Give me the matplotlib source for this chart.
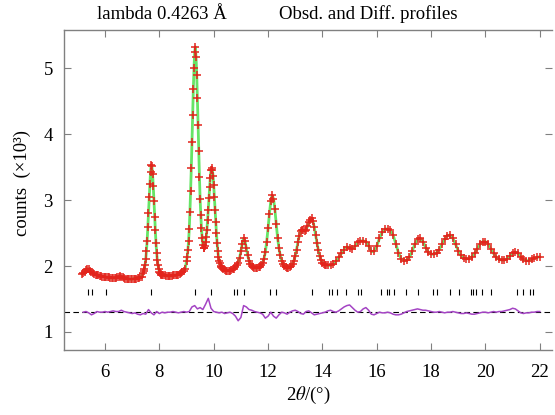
import numpy as np
import matplotlib
matplotlib.use("Agg")
import matplotlib.pyplot as plt

plt.rcParams['font.family'] = ['Liberation Serif', 'DejaVu Serif']
plt.rcParams['mathtext.fontset'] = 'stix'

obs_pieces = [
    (5.15, 0.05, [1.88, 1.89, 1.91, 1.94, 1.96, 1.95, 1.93, 1.91, 1.89, 1.88,
                  1.87, 1.86, 1.86, 1.85, 1.85, 1.84, 1.84, 1.84, 1.83, 1.83,
                  1.83, 1.82, 1.82, 1.82, 1.82, 1.82, 1.83, 1.84, 1.85, 1.84,
                  1.83, 1.82, 1.81, 1.81, 1.81, 1.80, 1.80, 1.80, 1.81, 1.81,
                  1.81, 1.82, 1.82, 1.83, 1.84]),
    (7.40, 0.025, [1.90, 1.92, 1.96, 2.02, 2.11, 2.23, 2.38, 2.59, 2.80, 3.04,
                   3.24, 3.43, 3.53, 3.51, 3.39, 3.21, 2.99, 2.75, 2.54, 2.35,
                   2.20, 2.09, 2.01, 1.96, 1.91, 1.90, 1.88, 1.87]),
    (8.10, 0.05, [1.87, 1.86, 1.86, 1.85, 1.85, 1.85, 1.85, 1.85, 1.86, 1.86,
                  1.86, 1.87, 1.87, 1.88, 1.89, 1.91, 1.93, 1.96]),
    (9.00, 0.025, [2.07, 2.14, 2.24, 2.38, 2.56, 2.82, 3.13, 3.48, 3.88, 4.29,
                   4.68, 5.00, 5.24, 5.32, 5.16, 4.90, 4.54, 4.14, 3.74, 3.35,
                   3.01, 2.77, 2.57, 2.42, 2.32, 2.28, 2.28, 2.31, 2.37, 2.44,
                   2.55, 2.69, 2.85, 3.03, 3.19, 3.34, 3.45, 3.48, 3.46, 3.37,
                   3.22, 3.04, 2.85, 2.66, 2.50, 2.35, 2.23, 2.14, 2.08, 2.04,
                   2.00, 1.98]),
    (10.30, 0.05, [1.97, 1.95, 1.94, 1.93, 1.93, 1.93, 1.93, 1.94, 1.95, 1.96,
                   1.98, 2.01, 2.05, 2.12, 2.22, 2.34, 2.42, 2.38, 2.27, 2.16,
                   2.08, 2.03, 2.00, 1.98, 1.97, 1.97, 1.97, 1.98, 1.99, 2.01,
                   2.05, 2.11, 2.21, 2.37, 2.57, 2.79, 2.98, 3.07, 3.02, 2.86,
                   2.64, 2.43, 2.27, 2.16, 2.08, 2.03, 2.00, 1.98, 1.97, 1.97,
                   1.98, 2.00, 2.03, 2.08, 2.15, 2.25, 2.36, 2.46, 2.53, 2.55,
                   2.54, 2.53, 2.55, 2.60, 2.66, 2.70, 2.72, 2.68, 2.59, 2.47,
                   2.35, 2.24, 2.15, 2.09, 2.05, 2.03, 2.02, 2.01, 2.01]),
    (14.30, 0.1, [2.01, 2.03, 2.07, 2.13, 2.19, 2.25, 2.29, 2.28, 2.26, 2.30,
                  2.36, 2.38, 2.38, 2.37, 2.31, 2.22, 2.22, 2.30, 2.42, 2.51,
                  2.56, 2.56, 2.54, 2.47, 2.34, 2.20, 2.11, 2.08, 2.09, 2.13,
                  2.22, 2.33, 2.41, 2.42, 2.37, 2.28, 2.21, 2.18, 2.18, 2.20,
                  2.25, 2.33, 2.41, 2.46, 2.47, 2.42, 2.33, 2.23, 2.16, 2.12,
                  2.11, 2.11, 2.14, 2.19, 2.26, 2.33, 2.37, 2.37, 2.33, 2.26,
                  2.19, 2.13, 2.10, 2.09, 2.09, 2.11, 2.15, 2.19, 2.21, 2.19,
                  2.14, 2.10, 2.08, 2.08, 2.10, 2.12, 2.13, 2.14]),
]

# reflection positions (tick row)
refl_pos = [5.37, 5.53, 6.03, 7.71, 9.31, 9.90, 10.74, 10.85, 11.10, 12.09,
            12.30, 13.60, 14.25, 14.37, 14.52, 14.86, 15.31, 15.41, 16.17, 16.36,
            16.45, 16.64, 17.07, 17.52, 18.07, 18.20, 18.68, 19.04, 19.47, 19.55,
            19.66, 19.88, 20.22, 21.18, 21.37, 21.63, 21.75]
refl_level = 1.6

# difference curve (offset to 1.3), from 5.2 in steps of 0.1
diff_start, diff_step = 5.2, 0.1
diff_vals = [1.30, 1.31, 1.29, 1.26, 1.28, 1.31, 1.30, 1.30, 1.31, 1.30,
             1.31, 1.32, 1.31, 1.31, 1.33, 1.31, 1.30, 1.29, 1.28, 1.29,
             1.27, 1.26, 1.28, 1.27, 1.34, 1.29, 1.26, 1.31, 1.28, 1.30,
             1.29, 1.30, 1.30, 1.31, 1.30, 1.29, 1.30, 1.31, 1.30, 1.31,
             1.38, 1.40, 1.35, 1.37, 1.34, 1.42, 1.51, 1.36, 1.31, 1.30,
             1.29, 1.30, 1.28, 1.29, 1.30, 1.28, 1.24, 1.17, 1.22, 1.40,
             1.38, 1.34, 1.33, 1.31, 1.30, 1.29, 1.27, 1.21, 1.24, 1.30,
             1.24, 1.21, 1.26, 1.30, 1.29, 1.27, 1.30, 1.32, 1.33, 1.31,
             1.28, 1.27, 1.31, 1.32, 1.29, 1.26, 1.27, 1.28, 1.29, 1.30,
             1.32, 1.33, 1.31, 1.30, 1.32, 1.35, 1.38, 1.40, 1.41, 1.37,
             1.33, 1.30, 1.31, 1.35, 1.37, 1.33, 1.27, 1.26, 1.28, 1.30,
             1.29, 1.29, 1.30, 1.29, 1.27, 1.26, 1.26, 1.27, 1.29, 1.31,
             1.32, 1.33, 1.34, 1.35, 1.34, 1.33, 1.33, 1.32, 1.31, 1.30,
             1.30, 1.31, 1.30, 1.29, 1.30, 1.30, 1.31, 1.30, 1.29, 1.28,
             1.28, 1.29, 1.28, 1.27, 1.27, 1.28, 1.29, 1.30, 1.30, 1.29,
             1.30, 1.31, 1.30, 1.31, 1.31, 1.32, 1.33, 1.34, 1.36, 1.35,
             1.32, 1.29, 1.28, 1.29, 1.29, 1.30, 1.30, 1.31, 1.31]
diff_zero = 1.3

x_ticks = [6, 8, 10, 12, 14, 16, 18, 20, 22]
y_ticks = [1, 2, 3, 4, 5]

two_theta = np.concatenate([s + st * np.arange(len(v)) for s, st, v in obs_pieces])
counts = np.concatenate([v for s, st, v in obs_pieces])
diff_x = diff_start + diff_step * np.arange(len(diff_vals))

fig = plt.figure(figsize=(5.55, 4.15), dpi=100)
ax = fig.add_axes([0.1153, 0.1566, 0.8793, 0.7711])

ax.plot(two_theta, counts, color='#66e466', lw=2.0, zorder=2)
ax.plot(two_theta, counts, ls='none', marker='+', ms=5.5, mew=1.1,
        color='#e3241c', zorder=3)
ax.plot(refl_pos, [refl_level] * len(refl_pos), ls='none', marker='|',
        ms=5, mew=0.8, color='k')
ax.axhline(diff_zero, color='k', lw=0.8, ls=(0, (5, 3)), zorder=1)
ax.plot(diff_x, diff_vals, color='#a444c4', lw=1.1, zorder=2)

ax.set_xlim(4.49, 22.45)
ax.set_ylim(0.727, 5.576)
ax.set_xticks(x_ticks)
ax.set_yticks(y_ticks)
ax.tick_params(direction='in', top=True, right=True, length=5, width=0.8,
               color='#808080', labelsize=13.5, pad=8)
ax.tick_params(axis='x', pad=10)
for sp in ax.spines.values():
    sp.set_color('#808080')
    sp.set_linewidth(1.0)
ax.spines['right'].set_visible(False)

ax.set_xlabel(r'2$\theta$/(°)', fontsize=13.5, labelpad=3)
fig.text(0.04, 0.56, 'counts  (×10³)', rotation=90, fontsize=13.5,
         ha='center', va='center')
fig.text(0.175, 0.966, 'lambda 0.4263 Å', fontsize=13.5, ha='left', va='center')
fig.text(0.503, 0.966, 'Obsd. and Diff. profiles', fontsize=13.5,
         ha='left', va='center')

fig.savefig('out.png', dpi=100)
